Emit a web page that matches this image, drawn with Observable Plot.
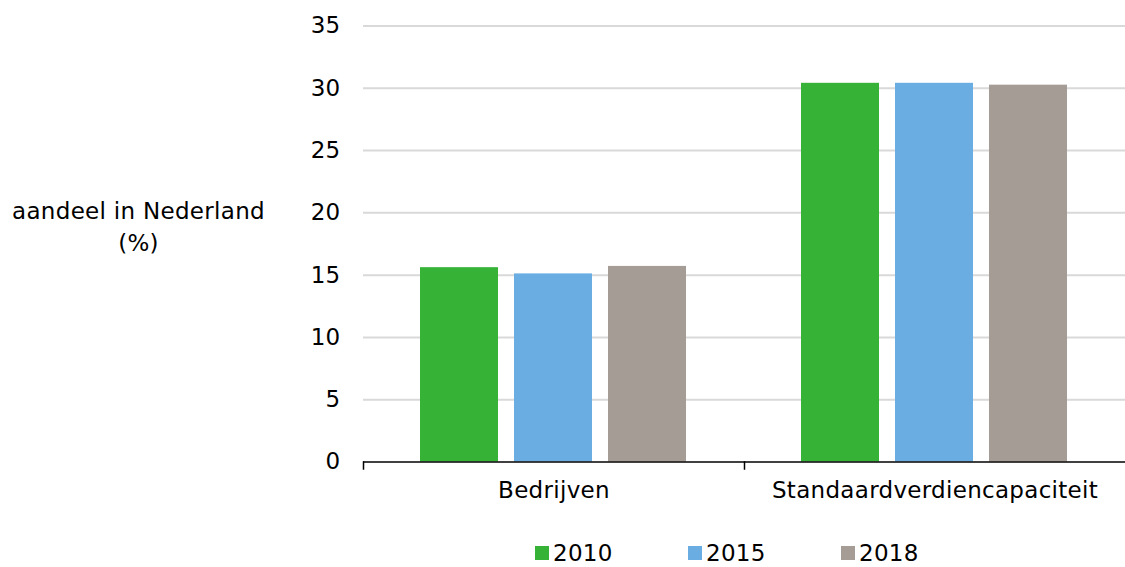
<!DOCTYPE html>
<html>
<head>
<meta charset="utf-8">
<script src="https://cdn.jsdelivr.net/npm/d3@7"></script>
<script src="https://cdn.jsdelivr.net/npm/@observablehq/plot@0.6"></script>
<style>
  body { margin: 0; background: #fff; font-family: "DejaVu Sans", Verdana, sans-serif; }
  #wrap { position: relative; width: 1125px; height: 567px; }
  #chart svg text { letter-spacing: 0.3px; }
  #ytitle { position: absolute; left: 0; width: 277px; top: 195px; text-align: center; font-size: 23px; line-height: 32px; letter-spacing: 0.3px; color: #000; }
  #legend { position: absolute; top: 540px; left: 535px; display: flex; font-size: 23px; letter-spacing: 0.3px; color: #000; }
  .item { width: 153px; display: flex; align-items: center; }
  .sw { width: 14px; height: 14px; margin-right: 4px; }
</style>
</head>
<body>
<div id="wrap">
  <div id="chart"></div>
  <div id="ytitle">aandeel in Nederland<br>(%)</div>
  <div id="legend"></div>
</div>
<script>
const categories = ["Bedrijven", "Standaardverdiencapaciteit"];
const years = ["2010", "2015", "2018"];
const colors = ["#36b336", "#6aade3", "#a59c95"];
const values2010 = [15.6, 30.4];
const values2015 = [15.1, 30.4];
const values2018 = [15.7, 30.25];
const yTicks = [0, 5, 10, 15, 20, 25, 30, 35];

const series = [values2010, values2015, values2018];
const data = [];
categories.forEach((c, i) => years.forEach((y, j) => data.push({category: c, year: y, value: series[j][i]})));

const plot = Plot.plot({
  width: 1125,
  height: 525,
  marginTop: 25.5,
  marginBottom: 63.5,
  marginLeft: 363,
  marginRight: 0,
  style: {fontFamily: "DejaVu Sans, Verdana, sans-serif", fontSize: "23px", color: "#000", overflow: "visible"},
  fx: {domain: categories, padding: 0, label: null},
  x: {domain: years, paddingInner: 0.17, paddingOuter: 0.6, axis: null},
  y: {domain: [0, 35], ticks: yTicks, label: null},
  color: {domain: years, range: colors},
  marks: [
    Plot.gridY(yTicks.filter(d => d > 0), {stroke: "#d9d9d9", strokeOpacity: 1, strokeWidth: 2}),
    Plot.axisY(yTicks, {tickSize: 0, tickPadding: 23, label: null, fontSize: 23}),
    Plot.barY(data, {fx: "category", x: "year", y: "value", fill: "year"}),
    Plot.ruleY([0], {stroke: "#000", strokeWidth: 1.5}),
    Plot.frame({anchor: "left", stroke: "#000", strokeWidth: 1.5, insetTop: 436, insetBottom: -7}),
    Plot.axisFx({anchor: "bottom", tickSize: 0, tickPadding: 20, label: null, fontSize: 23})
  ]
});
document.getElementById("chart").appendChild(plot);

const legend = document.getElementById("legend");
years.forEach((y, i) => {
  const item = document.createElement("div");
  item.className = "item";
  item.innerHTML = `<span class="sw" style="background:${colors[i]}"></span><span>${y}</span>`;
  legend.appendChild(item);
});
</script>
</body>
</html>
